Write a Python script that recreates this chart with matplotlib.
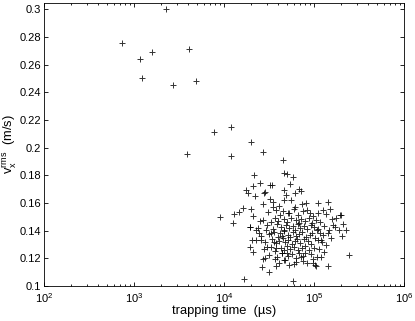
import matplotlib
matplotlib.use('Agg')
import matplotlib.pyplot as plt
import numpy as np

plt.rcParams['font.family'] = ['Liberation Sans', 'DejaVu Sans']
plt.rcParams['mathtext.default'] = 'regular'

# scattered early points (trapping time in us, v_x rms in m/s)
t_early = [2250, 736, 1166, 1585, 1238, 2735, 4045, 4930, 7815, 11970,
           3880, 11860, 19950, 27350, 45290]
v_early = [0.300, 0.2755, 0.2643, 0.2696, 0.2504, 0.2455, 0.2715, 0.2484, 0.2116, 0.2152,
           0.1957, 0.1940, 0.2043, 0.1967, 0.1911]

# edge of the main cloud
t_edge = [47000, 50500, 58500, 21700, 32800, 34400, 25300, 21000, 46000, 55000,
          69000, 72000, 17500, 18400, 22000, 28000, 29000, 48500, 61000, 16400,
          13000, 12600, 8950, 14900, 20000, 21000, 19500, 27500, 32800, 35000,
          35600, 41000, 46000, 55600, 61000, 53500, 74000, 82000, 85000, 112000,
          110000, 142000, 152000, 193000, 200000, 175000, 165000, 210000, 228000, 188000,
          205000, 148000, 117000, 120000, 108000, 137000, 130000, 120000, 246000, 142000,
          97500, 103000, 106000, 84000, 72000, 79000, 58500, 16700, 31400, 37500,
          26500, 27500, 28300, 36700, 47000, 53500, 63000, 50000, 43700, 38000,
          36500, 33600, 29500, 23000, 25300, 24300, 19300, 19700, 20500, 26000,
          30500, 21000]
v_edge = [0.1817, 0.1812, 0.1790, 0.1800, 0.1730, 0.1733, 0.1745, 0.1725, 0.1694, 0.1735,
          0.1700, 0.1690, 0.1694, 0.1675, 0.1650, 0.1675, 0.1677, 0.1660, 0.1675, 0.1566,
          0.1520, 0.1458, 0.1500, 0.1535, 0.1554, 0.1506, 0.1429, 0.1593, 0.1631, 0.1607,
          0.1569, 0.1580, 0.1622, 0.1622, 0.1573, 0.1525, 0.1593, 0.1598, 0.1550, 0.1602,
          0.1525, 0.1605, 0.1557, 0.1513, 0.1513, 0.1490, 0.1441, 0.1446, 0.1405, 0.1405,
          0.1364, 0.1405, 0.1380, 0.1333, 0.1405, 0.1296, 0.1248, 0.1212, 0.1224, 0.1147,
          0.1164, 0.1152, 0.1147, 0.1164, 0.1210, 0.1236, 0.1036, 0.1053, 0.1104, 0.1147,
          0.1135, 0.1193, 0.1200, 0.1195, 0.1188, 0.1152, 0.1176, 0.1236, 0.1236, 0.1272,
          0.1320, 0.1380, 0.1405, 0.1405, 0.1470, 0.1380, 0.1424, 0.1284, 0.1333, 0.1333,
          0.1284, 0.1248]

# dense core of the cloud
t_core = [31000, 38000, 42000, 45000, 52000, 60000, 66000, 76000, 90000, 98000,
          125000, 135000,
          27000, 33000, 37000, 40000, 47000, 50000, 56000, 63000, 68000, 72000,
          80000, 88000, 95000, 105000, 118000, 160000,
          24000, 30000, 35000, 39000, 43000, 46000, 49000, 53000, 58000, 62000,
          67000, 71000, 78000, 85000, 92000, 100000, 112000, 130000, 170000,
          26000, 32000, 36000, 40000, 42000, 44000, 47000, 51000, 55000, 59000,
          64000, 69000, 74000, 82000, 90000, 96000, 104000, 125000, 145000,
          23000, 29000, 34000, 38000, 41000, 45000, 48000, 52000, 57000, 61000,
          65000, 70000, 77000, 86000, 93000, 110000, 122000, 155000,
          28000, 33000, 37000, 43000, 46000, 50000, 54000, 60000, 66000, 73000,
          80000, 88000, 100000, 115000,
          32000, 39000, 44000, 52000, 57000, 63000, 68000, 76000, 92000, 108000,
          41000, 48000, 60000, 75000, 98000]
v_core = [0.1535, 0.1552, 0.1510, 0.1545, 0.1530, 0.1558, 0.1515, 0.1540, 0.1525, 0.1505,
          0.1548, 0.1520,
          0.1480, 0.1465, 0.1495, 0.1470, 0.1485, 0.1460, 0.1490, 0.1475, 0.1455, 0.1488,
          0.1468, 0.1492, 0.1458, 0.1478, 0.1462, 0.1483,
          0.1420, 0.1438, 0.1412, 0.1445, 0.1425, 0.1405, 0.1440, 0.1418, 0.1432, 0.1408,
          0.1447, 0.1422, 0.1435, 0.1415, 0.1442, 0.1428, 0.1410, 0.1437, 0.1425,
          0.1360, 0.1375, 0.1390, 0.1355, 0.1382, 0.1365, 0.1395, 0.1370, 0.1352, 0.1388,
          0.1362, 0.1378, 0.1392, 0.1358, 0.1372, 0.1385, 0.1350, 0.1368, 0.1380,
          0.1330, 0.1315, 0.1342, 0.1308, 0.1325, 0.1345, 0.1318, 0.1335, 0.1305, 0.1328,
          0.1340, 0.1312, 0.1338, 0.1322, 0.1302, 0.1332, 0.1318, 0.1345,
          0.1270, 0.1285, 0.1255, 0.1278, 0.1262, 0.1290, 0.1268, 0.1282, 0.1258, 0.1275,
          0.1288, 0.1260, 0.1272, 0.1265,
          0.1225, 0.1210, 0.1238, 0.1215, 0.1230, 0.1205, 0.1242, 0.1220, 0.1232, 0.1212,
          0.1170, 0.1185, 0.1160, 0.1178, 0.1192]

yticks = [0.1, 0.12, 0.14, 0.16, 0.18, 0.2, 0.22, 0.24, 0.26, 0.28, 0.3]
ytick_labels = ['0.1', '0.12', '0.14', '0.16', '0.18', '0.2', '0.22', '0.24', '0.26', '0.28', '0.3']
xticks = [1e2, 1e3, 1e4, 1e5, 1e6]
xtick_labels = ['$10^{2}$', '$10^{3}$', '$10^{4}$', '$10^{5}$', '$10^{6}$']

fig = plt.figure(figsize=(4.15, 3.21), dpi=100)
ax = fig.add_axes([0.106, 0.109, 0.867, 0.883])

t_all = t_early + t_edge + t_core
v_all = v_early + v_edge + v_core
ax.plot(t_all, v_all, '+', color='k', markersize=4.5, markeredgewidth=0.7, alpha=0.8)

ax.set_xscale('log')
ax.set_xlim(1e2, 1e6)
ax.set_ylim(0.1, 0.305)
ax.set_xticks(xticks)
ax.set_xticklabels(xtick_labels, fontsize=8)
ax.set_yticks(yticks)
ax.set_yticklabels(ytick_labels, fontsize=8)
ax.xaxis.set_minor_locator(matplotlib.ticker.LogLocator(base=10, subs=np.arange(2, 10)))
ax.xaxis.set_minor_formatter(matplotlib.ticker.NullFormatter())
ax.tick_params(which='both', direction='in', top=True, right=True, width=0.6)
ax.tick_params(which='major', length=3)
ax.tick_params(axis='y', which='major', pad=2)
ax.tick_params(axis='x', which='major', pad=3.5)
ax.tick_params(which='minor', length=1.5)
for s in ax.spines.values():
    s.set_linewidth(0.6)

ax.set_xlabel('trapping time  (\u00b5s)', fontsize=9.3, labelpad=0)
ax.set_ylabel('$v_x^{rms}$  (m/s)', fontsize=9.3, labelpad=1)

fig.savefig('out.png', dpi=100)
